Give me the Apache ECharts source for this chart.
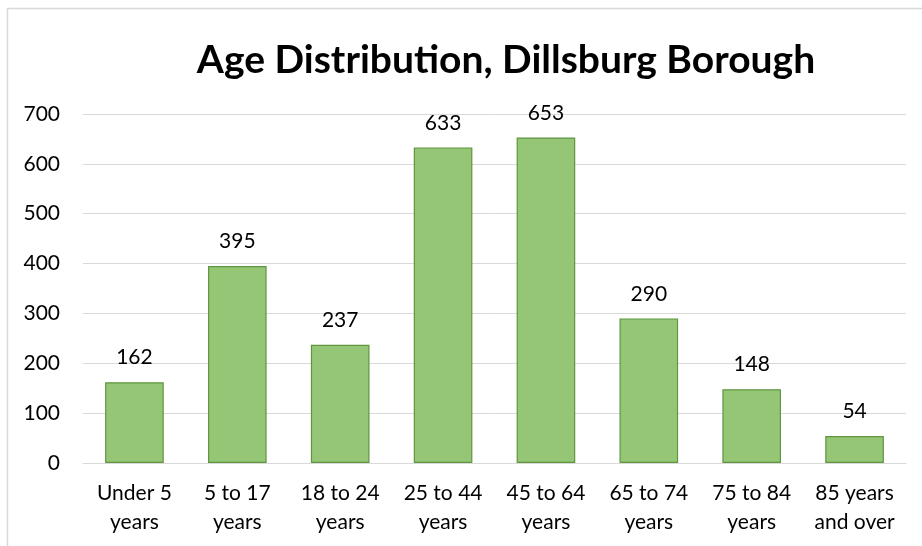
<!DOCTYPE html>
<html><head><meta charset="utf-8">
<script src="https://cdn.jsdelivr.net/npm/echarts@6/dist/echarts.min.js"></script>
<style>html,body{margin:0;padding:0;background:#fff}#c{width:922px;height:546px}</style>
</head><body><div id="c"></div>
<script>
const categories = ["Under 5\nyears","5 to 17\nyears","18 to 24\nyears","25 to 44\nyears","45 to 64\nyears","65 to 74\nyears","75 to 84\nyears","85 years\nand over"];
const values = [162, 395, 237, 633, 653, 290, 148, 54];
const yTicks = {min: 0, max: 700, interval: 100};
const titleText = "Age Distribution, Dillsburg Borough";

const chart = echarts.init(document.getElementById('c'), null, {renderer: 'canvas'});
const font = 'Lato, "Open Sans", sans-serif';
chart.setOption({
  animation: false,
  backgroundColor: '#fff',
  title: {
    text: titleText, left: 501, textAlign: 'center', top: 36,
    textStyle: {fontFamily: font, fontWeight: 'bold', fontSize: 39, color: '#000'}
  },
  graphic: [
    {type: 'rect', shape: {x: 7.5, y: 8.5, width: 1000, height: 1000}, style: {fill: 'none', stroke: '#d9d9d9', lineWidth: 1.5}, silent: true}
  ],
  grid: {left: 83, right: 16, top: 114, bottom: 83, containLabel: false},
  xAxis: {
    type: 'category', data: categories,
    axisLine: {show: true, lineStyle: {color: '#d9d9d9', width: 1}},
    axisTick: {show: false},
    axisLabel: {fontFamily: font, fontSize: 21, color: '#000', lineHeight: 29, margin: 16, interval: 0}
  },
  yAxis: {
    type: 'value', min: yTicks.min, max: yTicks.max, interval: yTicks.interval,
    axisLine: {show: false}, axisTick: {show: false},
    splitLine: {lineStyle: {color: '#d9d9d9', width: 1}},
    axisLabel: {fontFamily: font, fontSize: 21, color: '#000', margin: 23}
  },
  series: [{
    type: 'bar', data: values, barWidth: '57%',
    itemStyle: {color: '#95c675', borderColor: '#5f9640', borderWidth: 1.2},
    label: {show: true, position: 'top', distance: 14, fontFamily: font, fontSize: 21, color: '#000'}
  }]
});
</script></body></html>
